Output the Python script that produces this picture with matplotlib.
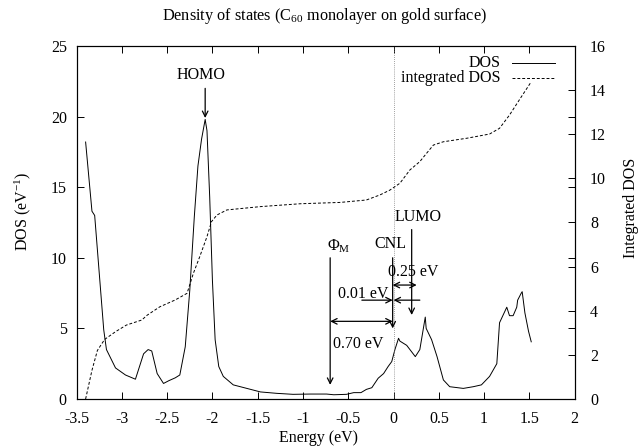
import matplotlib
matplotlib.use("Agg")
import matplotlib.pyplot as plt

plt.rcParams['font.family'] = ['Liberation Serif', 'DejaVu Serif']
plt.rcParams['mathtext.fontset'] = 'custom'
plt.rcParams['mathtext.rm'] = 'Liberation Serif'
plt.rcParams['mathtext.it'] = 'Liberation Serif:italic'
plt.rcParams['font.size'] = 11.5

# DOS curve (eV, 1/eV)
energia_dos = [-3.40, -3.33, -3.30, -3.20, -3.17, -3.07, -2.96, -2.85, -2.76, -2.71,
               -2.67, -2.61, -2.54, -2.48, -2.41, -2.36, -2.30, -2.25, -2.20, -2.16,
               -2.12, -2.08, -2.06, -2.03, -2.00, -1.97, -1.93, -1.88, -1.77, -1.62,
               -1.47, -1.29, -1.11, -0.92, -0.74, -0.66, -0.52, -0.44, -0.36, -0.30,
               -0.24, -0.17, -0.11, -0.06, -0.02, 0.015, 0.05, 0.055, 0.07, 0.145,
               0.24, 0.29, 0.35, 0.36, 0.42, 0.48, 0.55, 0.62, 0.77, 0.88,
               0.97, 1.06, 1.14, 1.17, 1.25, 1.28, 1.32, 1.36, 1.37, 1.41,
               1.42, 1.45, 1.49, 1.52]
valori_dos = [18.2, 13.3, 13.0, 4.9, 3.5, 2.2, 1.7, 1.4, 3.2, 3.5,
              3.4, 1.8, 1.1, 1.3, 1.5, 1.7, 3.7, 7.7, 12.9, 16.5,
              18.4, 19.8, 19.0, 14.3, 8.4, 4.2, 2.3, 1.6, 1.0, 0.75,
              0.5, 0.4, 0.33, 0.35, 0.35, 0.3, 0.33, 0.45, 0.45, 0.68,
              0.8, 1.47, 1.8, 2.3, 2.65, 3.5, 4.2, 4.3, 4.1, 3.8,
              3.0, 3.5, 5.8, 5.0, 4.2, 3.0, 1.35, 0.87, 0.75, 0.87,
              1.0, 1.6, 2.5, 5.4, 6.5, 5.9, 5.9, 6.5, 7.0, 7.5,
              7.6, 6.1, 4.8, 4.05]

# integrated DOS
energia_int = [-3.40, -3.33, -3.27, -3.19, -3.07, -2.95, -2.78, -2.72, -2.58, -2.41,
               -2.28, -2.21, -2.14, -2.06, -2.01, -1.95, -1.84, -1.47, -1.03, -0.59,
               -0.30, -0.15, -0.04, 0.07, 0.18, 0.29, 0.365, 0.44, 0.55, 0.81,
               1.06, 1.17, 1.28, 1.40, 1.52]
valori_int = [0.0, 1.3, 2.2, 2.7, 3.05, 3.35, 3.58, 3.8, 4.18, 4.49,
              4.79, 5.7, 6.45, 7.36, 8.04, 8.34, 8.57, 8.72, 8.85, 8.91,
              9.02, 9.25, 9.47, 9.78, 10.38, 10.76, 11.14, 11.51, 11.66, 11.82,
              12.01, 12.27, 12.87, 13.63, 14.38]

x_ticks = [-3.5, -3, -2.5, -2, -1.5, -1, -0.5, 0, 0.5, 1, 1.5, 2]
x_labels = ['-3.5', '-3', '-2.5', '-2', '-1.5', '-1', '-0.5', '0', '0.5', '1', '1.5', '2']

fig = plt.figure(figsize=(6.38, 4.48), dpi=100)
ax = fig.add_axes([0.12, 0.1094, 0.7808, 0.7879])
ax2 = ax.twinx()

ax.plot(energia_dos, valori_dos, color='black', lw=0.7)
ax2.plot(energia_int, valori_int, color='black', lw=0.7, ls=(0, (3, 2)))
ax.axvline(0, color='gray', lw=0.6, ls=(0, (1, 1.5)))

ax.set_xlim(-3.5, 2)
ax.set_ylim(0, 25)
ax2.set_ylim(0, 16)
ax.set_xticks(x_ticks)
ax.set_xticklabels(x_labels)
ax.set_yticks([0, 5, 10, 15, 20, 25])
ax2.set_yticks([0, 2, 4, 6, 8, 10, 12, 14, 16])
ax.tick_params(direction='in', top=True, right=True, length=5, width=0.7)
ax.tick_params(axis='x', pad=9)
ax.tick_params(axis='y', pad=7)
ax2.tick_params(direction='in', length=5, width=0.7, pad=11)
for a in (ax, ax2):
    for s in a.spines.values():
        s.set_linewidth(0.8)

# freccette
freccia = dict(arrowstyle='->', color='black', lw=0.9, shrinkA=0, shrinkB=0,
               mutation_scale=10)
doppia = dict(arrowstyle='<->', color='black', lw=0.9, shrinkA=0, shrinkB=0,
              mutation_scale=10)

ax.text(-2.13, 22.95, 'HOMO', ha='center', va='center')
ax.annotate('', xy=(-2.08, 19.9), xytext=(-2.08, 22.0), arrowprops=freccia)

ax.text(-0.61, 10.8, r'$\Phi_{\rm M}$', ha='center', va='center')
ax.annotate('', xy=(-0.70, 1.0), xytext=(-0.70, 10.0), arrowprops=freccia)
ax.annotate('', xy=(-0.70, 5.5), xytext=(-0.01, 5.5), arrowprops=doppia)
ax.text(-0.39, 3.9, '0.70 eV', ha='center', va='center')

ax.text(-0.04, 11.0, 'CNL', ha='center', va='center')
ax.annotate('', xy=(-0.01, 5.0), xytext=(-0.01, 10.0), arrowprops=freccia)
ax.annotate('', xy=(-0.01, 7.0), xytext=(-0.35, 7.0), arrowprops=freccia)
ax.annotate('', xy=(0.0, 7.0), xytext=(0.29, 7.0), arrowprops=freccia)
ax.text(-0.33, 7.45, '0.01 eV', ha='center', va='center')

ax.text(0.27, 12.9, 'LUMO', ha='center', va='center')
ax.annotate('', xy=(0.20, 5.95), xytext=(0.20, 12.0), arrowprops=freccia)
ax.annotate('', xy=(-0.01, 8.07), xytext=(0.255, 8.07), arrowprops=doppia)
ax.text(0.22, 9.0, '0.25 eV', ha='center', va='center')

# legenda a mano
ax.text(0.852, 0.953, 'DOS', transform=ax.transAxes, ha='right', va='center')
ax.plot([0.875, 0.96], [0.953, 0.953], transform=ax.transAxes, color='black', lw=0.7)
ax.text(0.852, 0.910, 'integrated DOS', transform=ax.transAxes, ha='right', va='center')
ax.plot([0.875, 0.96], [0.910, 0.910], transform=ax.transAxes, color='black', lw=0.7,
        ls=(0, (3, 2)))

fig.text(324 / 638, 1 - 16 / 448, r'Density of states (C$_{60}$ monolayer on gold surface)',
         ha='center', va='center', fontsize=11.7)
fig.text(318.5 / 638, 1 - 438 / 448, 'Energy (eV)', ha='center', va='center')
fig.text(23 / 638, 1 - 211 / 448, r'DOS (eV$^{-1}$)', rotation=90, ha='center', va='center')
fig.text(631 / 638, 1 - 208 / 448, 'Integrated DOS', rotation=90, ha='center', va='center')

fig.savefig('out.png', dpi=100)
